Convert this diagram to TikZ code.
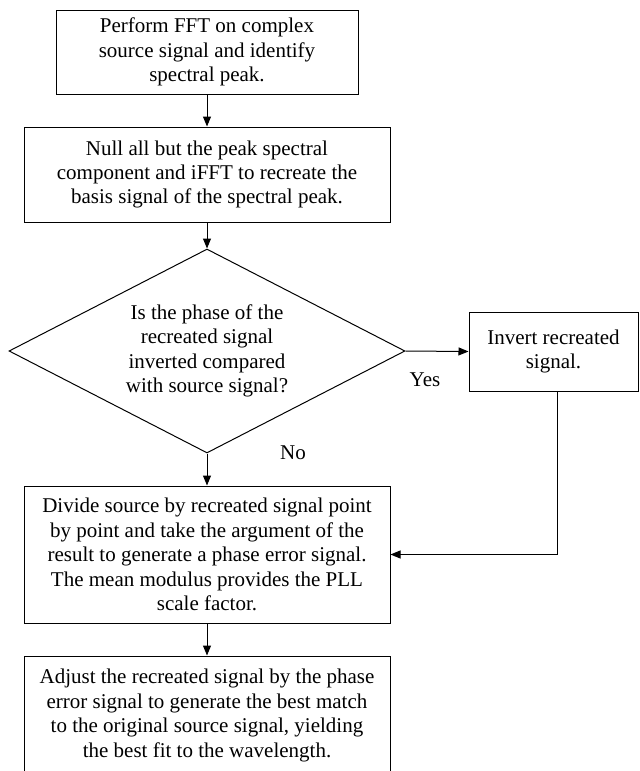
\documentclass[tikz,border=0pt]{standalone}
\usepackage{fontspec}
\setmainfont{Liberation Serif}
\usetikzlibrary{shapes.geometric}
\usetikzlibrary{arrows.meta}

\begin{document}
\begin{tikzpicture}[
  x=0.5pt, y=-0.5pt,
  >={Triangle[length=5pt,width=4pt]},
  every node/.style={font=\fontsize{10.5}{12.2}\selectfont, align=center},
  box/.style={draw, line width=0.5pt, inner sep=2pt},
  decision/.style={draw, line width=0.5pt, shape=diamond, aspect=1.94, inner sep=0pt},
  flow/.style={->, line width=0.5pt}
]
  \clip (0,0) rectangle (639,771);
  %%% main column
  \node[box, minimum width=151pt, minimum height=42pt] (fft) at (207,52)
    {Perform FFT on complex\\source signal and identify\\spectral peak.};
  \node[box, minimum width=183pt, minimum height=47.5pt] (null) at (207,174.5)
    {Null all but the peak spectral\\component and iFFT to recreate the\\basis signal of the spectral peak.};
  \node[decision, minimum width=198pt, minimum height=102pt] (phase) at (207,351)
    {Is the phase of the\\recreated signal\\inverted compared\\with source signal?};
  \node[box, minimum width=183pt, minimum height=68.5pt] (divide) at (207,554.5)
    {Divide source by recreated signal point\\by point and take the argument of the\\result to generate a phase error signal.\\The mean modulus provides the PLL\\scale factor.};
  \node[box, minimum width=183pt, minimum height=59.5pt] (adjust) at (207,715.5)
    {Adjust the recreated signal by the phase\\error signal to generate the best match\\to the original source signal, yielding\\the best fit to the wavelength.};
  %%% side branch
  \node[box, minimum width=84.5pt, minimum height=39.5pt] (invert) at (553.5,351.5)
    {Invert recreated\\signal.};
  \coordinate (invdown) at ([xshift=1.75pt]invert.south);
  %
  \node (yes) at (425,380) {Yes};
  \node (no) at (293,453) {No};
  %%% connectors
  \draw[flow] (fft) -- (null);
  \draw[flow] (null) -- (phase);
  \draw[flow] (phase) -- (divide);
  \draw[flow] (divide) -- (adjust);
  \draw[flow] (phase.east) -- (invert.west);
  \draw[flow] (invdown) |- (divide.east);
\end{tikzpicture}
\end{document}
